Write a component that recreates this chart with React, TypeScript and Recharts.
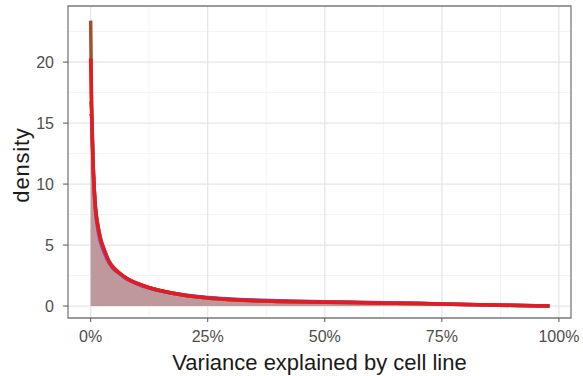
import React from 'react';
import { ComposedChart, Line, Area, XAxis, YAxis, CartesianGrid, ReferenceArea } from 'recharts';

const xVals = [0, 0.002, 0.005, 0.01, 0.015, 0.02, 0.03, 0.04, 0.05, 0.06, 0.08, 0.1, 0.125, 0.15, 0.2, 0.25, 0.3, 0.35, 0.4, 0.5, 0.6, 0.7, 0.75, 0.8, 0.9, 0.98];
const brownSeries = [23.4, 16.4, 12.0, 8.2, 6.7, 5.7, 4.5, 3.6, 3.1, 2.75, 2.2, 1.85, 1.5, 1.25, 0.88, 0.66, 0.52, 0.43, 0.38, 0.31, 0.26, 0.2, 0.16, 0.12, 0.06, 0.01];
const greenSeries = [16.8, 16.0, 11.8, 8.1, 6.6, 5.6, 4.45, 3.6, 3.1, 2.75, 2.2, 1.84, 1.5, 1.25, 0.88, 0.67, 0.54, 0.45, 0.4, 0.33, 0.27, 0.2, 0.16, 0.12, 0.05, 0.01];
const purpleSeries = [15.8, 15.5, 11.6, 7.9, 6.4, 5.4, 4.3, 3.5, 3.0, 2.7, 2.15, 1.8, 1.48, 1.24, 0.9, 0.7, 0.58, 0.49, 0.44, 0.36, 0.3, 0.22, 0.17, 0.12, 0.05, 0.01];
const redSeries = [20.3, 16.2, 12.0, 8.2, 6.7, 5.7, 4.5, 3.6, 3.1, 2.75, 2.2, 1.85, 1.5, 1.25, 0.88, 0.66, 0.52, 0.43, 0.38, 0.31, 0.26, 0.2, 0.16, 0.12, 0.06, 0.01];

const xTicks = [0, 0.25, 0.5, 0.75, 1];
const xMinor = [0.125, 0.375, 0.625, 0.875];
const yTicks = [0, 5, 10, 15, 20];
const yMinor = [2.5, 7.5, 12.5, 17.5, 22.5];
const xDomain: [number, number] = [-0.0484, 1.0258];
const yDomain: [number, number] = [-0.98, 24.6];

const data = xVals.map((x, i) => ({
  x,
  fill: redSeries[i],
  brown: brownSeries[i],
  green: greenSeries[i],
  purple: purpleSeries[i],
  red: redSeries[i],
}));

const FONT = '"Liberation Sans", Arial, sans-serif';

export default function App() {
  return (
    <div style={{ position: 'absolute', left: 0, top: 0, width: 583, height: 376, background: '#fff' }}>
      <ComposedChart width={583} height={376} data={data} margin={{ top: 6, right: 12, bottom: 0, left: 0 }}>
        <CartesianGrid horizontalValues={yMinor} verticalValues={xMinor} stroke="#f3f3f3" strokeWidth={1} strokeDasharray="" />
        <CartesianGrid horizontalValues={yTicks} verticalValues={xTicks} stroke="#e6e6e6" strokeWidth={1.3} strokeDasharray="" />
        <XAxis
          dataKey="x"
          type="number"
          domain={xDomain}
          ticks={xTicks}
          allowDataOverflow
          tickFormatter={(v: number) => `${Math.round(v * 100)}%`}
          height={58}
          axisLine={false}
          tickSize={4}
          tickMargin={9}
          tickLine={{ stroke: '#555' }}
          tick={{ fill: '#4d4d4d', fontSize: 16, fontFamily: FONT }}
          label={{
            content: (p: any) => {
              const vb = p.viewBox;
              return (
                <text x={vb.x + vb.width / 2} y={vb.y + 52} textAnchor="middle" fill="#1a1a1a" fontSize={22} fontFamily={FONT}>
                  Variance explained by cell line
                </text>
              );
            },
          }}
        />
        <YAxis
          type="number"
          domain={yDomain}
          ticks={yTicks}
          allowDataOverflow
          width={68}
          axisLine={false}
          tickSize={5}
          tickMargin={9}
          tickLine={{ stroke: '#555' }}
          tick={{ fill: '#4d4d4d', fontSize: 16, fontFamily: FONT }}
          label={{
            content: (p: any) => {
              const vb = p.viewBox;
              const cx = vb.x + 21;
              const cy = vb.y + vb.height / 2 + 3;
              return (
                <text x={cx} y={cy} transform={`rotate(-90 ${cx} ${cy})`} textAnchor="middle" dominantBaseline="central" fill="#1a1a1a" fontSize={22} letterSpacing={0.8} fontFamily={FONT}>
                  density
                </text>
              );
            },
          }}
        />
        <Area dataKey="fill" type="monotone" stroke="none" fill="#bf989b" fillOpacity={1} baseValue={0} isAnimationActive={false} />
        <Line dataKey="brown" type="monotone" stroke="#a0522d" strokeWidth={3.5} dot={false} isAnimationActive={false} />
        <Line dataKey="green" type="monotone" stroke="#4daf4a" strokeWidth={3.5} dot={false} isAnimationActive={false} />
        <Line dataKey="purple" type="monotone" stroke="#6d55b8" strokeWidth={3.5} dot={false} isAnimationActive={false} />
        <Line dataKey="red" type="monotone" stroke="#e8191f" strokeWidth={3.5} dot={false} isAnimationActive={false} />
        <ReferenceArea x1={xDomain[0]} x2={xDomain[1]} y1={yDomain[0]} y2={yDomain[1]} fill="none" stroke="#7a7a7a" strokeWidth={1.3} ifOverflow="visible" />
      </ComposedChart>
    </div>
  );
}
